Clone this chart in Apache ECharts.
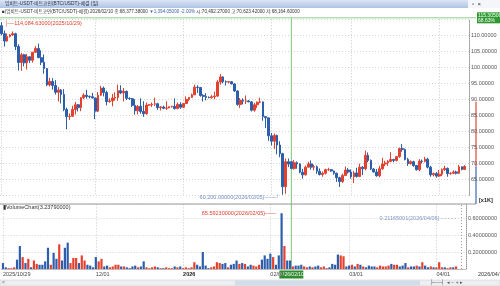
<!DOCTYPE html>
<html><head><meta charset="utf-8">
<script src="https://cdn.jsdelivr.net/npm/echarts@6/dist/echarts.min.js"></script>
<style>html,body{margin:0;padding:0;background:#fff;overflow:hidden}#c{width:500px;height:286px}</style>
</head><body><div id="c"></div>
<script>
// ---- data (daily candles, BTC/USDT) ----
const startDate = [2025, 10, 29];
// [open, high, low, close]
const ohlc = [
[113000,114084.63,110000,110500],[110500,111500,106500,108200],[108200,110600,108000,109600],
[109600,110400,109300,110100],[110100,111200,109800,110500],[110500,110800,105400,106500],
[106500,107200,99000,101500],[101500,104500,98900,103900],[103900,104200,100300,101400],
[101400,104200,99300,103300],[103300,103400,101300,102200],[102200,104800,101500,104700],
[104700,106600,104500,105900],[105900,107400,102900,103000],[103000,105300,100700,101600],
[101600,104000,98000,99600],[99600,99800,94100,94500],[94500,96700,94000,95600],
[95600,96600,93000,94300],[94300,96000,91500,92200],[92200,93800,89300,92900],
[92900,93200,88700,91500],[91500,93200,86300,86800],[86800,87400,80600,84600],
[84600,85600,83500,84700],[84700,88000,84600,86800],[86800,89200,85300,88300],
[88300,88500,86200,87400],[87400,90700,86300,90500],[90500,91900,90000,91300],
[91300,93000,90200,90900],[90900,91200,90300,90800],[90800,92000,90300,90400],
[90400,90500,83800,86300],[86300,92300,86000,91300],[91300,94200,91000,93500],
[93500,94000,90900,92100],[92100,92700,88100,89300],[89300,90300,88900,89500],
[89500,91700,87800,90400],[90400,92200,89600,90600],[90600,94600,89500,92700],
[92700,94400,91600,92000],[92000,93500,89300,92500],[92500,92700,89800,90300],
[90300,90600,89800,90200],[90200,90400,87600,88100],[88100,90000,85200,86400],
[86400,88200,85300,87800],[87800,90300,85500,86200],[86200,89400,84500,85500],
[85500,89000,85200,88200],[88200,88500,87900,88300],[88300,89000,87600,88500],
[88500,90500,87900,88600],[88600,88900,86700,87400],[87400,87900,86500,87600],
[87600,88000,86900,87200],[87200,89400,86700,87300],[87300,87800,87200,87700],
[87700,88000,87400,87800],[87800,90300,86800,87100],[87100,89000,86900,88400],
[88400,89100,87000,87500],[87500,88700,87300,88700],[88700,90900,88500,90000],
[90000,90600,89400,90600],[90600,91800,90500,91400],[91400,94600,91300,93800],
[93800,94400,92000,93700],[93700,93800,90800,91200],[91200,91600,89300,90900],
[90900,91900,89700,90600],[90600,90900,90300,90500],[90500,91300,90200,90800],
[90800,92400,90000,91000],[91000,96000,90800,95400],[95400,97900,94600,97000],
[97000,97200,95000,95500],[95500,95900,94300,95400],[95400,95700,95000,95500],
[95500,95600,94700,94800],[94800,95000,92300,92600],[92600,92800,88000,88400],
[88400,90400,87300,89700],[89700,90300,88400,89400],[89400,91200,88500,89500],
[89500,89800,89100,89200],[89200,89300,86200,86600],[86600,88900,86100,88300],
[88300,89300,87300,89100],[89100,90500,88800,89200],[89200,89300,83300,84600],
[84600,84700,81000,84200],[84200,84300,77000,78600],[78600,79500,75600,76900],
[76900,79300,74500,78700],[78700,79000,72800,75700],[75700,76900,71900,73000],
[73000,73300,60200,62700],[62700,71500,60500,70500],[70500,71500,68800,69771.43],
[70492.27,70623.42,68164.60,68377.38],[68377,71000,68000,70200],[70200,70600,68300,69800],
[69800,70000,66900,67200],[67200,68300,65200,66400],[66400,69300,66200,68800],
[68800,70500,68700,69800],[69800,70900,68000,68800],[68800,69600,67800,68900],
[68900,69300,66700,67500],[67500,68400,66200,66500],[66500,67400,65800,66900],
[66900,68300,66500,68000],[68000,68600,67600,68000],[68000,68200,67300,67600],
[67600,67700,66400,66900],[66900,67100,64200,65500],[65500,65800,62600,64300],
[64300,66800,63900,66200],[66200,69000,66000,67900],[67900,68500,66800,67300],
[67300,68100,65200,65800],[65800,67600,63800,67000],[67000,68600,65500,65900],
[65900,69900,65700,68800],[68800,69100,66300,68300],[68300,74000,67800,72500],
[72500,73400,70300,70900],[70900,71200,67900,68200],[68200,68500,67100,67300],
[67300,68200,65800,66100],[66100,69200,65600,68300],[68300,71700,68000,69800],
[69800,70800,69100,70100],[70100,71000,69200,70600],[70600,73500,70300,71200],
[71200,71400,70300,70900],[70900,72300,70600,72100],[72100,74900,71700,74600],
[74600,76000,73600,74300],[74300,74600,70900,71200],[71200,71700,69200,69900],
[69900,70900,69600,70500],[70500,70800,68900,69300],[69300,69500,67700,68000],
[68000,71300,67500,70700],[70700,71200,69900,70600],[70600,72000,70300,71300],
[71300,71700,68400,68800],[68800,69200,65800,66400],[66400,67100,65900,66800],
[66800,67300,65500,66000],[66000,67900,65700,66600],[66600,68400,66000,68000],
[68000,69200,67600,68400],[68400,68700,65800,66800],[66800,67200,66400,66900],
[66900,67800,66600,67300],[67300,67700,66500,66900],[66900,69500,66700,68900],
[68900,69000,67800,68100],[68100,69400,68000,69000]
];
const volumes = [
0.07,0.02,0.01,0.01,0.02,0.11,0.27,0.14,0.07,0.12,0.02,0.10,0.06,0.05,0.05,0.09,0.25,0.05,0.19,0.12,
0.29,0.10,0.25,0.31,0.07,0.13,0.13,0.07,0.16,0.10,0.05,0.04,0.02,0.14,0.09,0.12,0.03,0.04,0.02,0.03,
0.05,0.05,0.03,0.03,0.02,0.01,0.03,0.04,0.02,0.03,0.09,0.02,0.01,0.02,0.03,0.02,0.01,0.01,0.02,0.01,
0.01,0.03,0.02,0.03,0.01,0.02,0.01,0.02,0.08,0.05,0.03,0.20,0.04,0.01,0.02,0.03,0.08,0.07,0.06,0.07,
0.02,0.05,0.06,0.10,0.06,0.07,0.06,0.03,0.05,0.04,0.03,0.05,0.11,0.16,0.12,0.18,0.14,0.05,0.16,0.656,
0.27,0.10,0.10,0.03,0.04,0.04,0.05,0.03,0.02,0.03,0.02,0.03,0.04,0.02,0.03,0.01,0.02,0.06,0.05,0.17,
0.16,0.15,0.03,0.04,0.05,0.03,0.06,0.05,0.03,0.02,0.04,0.03,0.03,0.02,0.04,0.03,0.03,0.04,0.06,0.05,
0.05,0.03,0.04,0.07,0.02,0.03,0.03,0.04,0.03,0.08,0.04,0.02,0.03,0.02,0.02,0.08,0.02,0.02,0.01,0.02,
0.02,0.03
];
const dateTickLabels = {'2025/10/29':'2025/10/29','2025/12/01':'12/01','2026/01/01':'2026','2026/02/01':'02/01','2026/03/01':'03/01','2026/04/01':'04/01'};
const headerTitle = '업비트-USDT-비트코인(BTC/USDT)-체결 (일)';
const crossIndex = 102;
const crossPrice = 115305.056;
const crossDateText = '2026/02/10';
const infoPrefix = '■(업비트-USDT-비트코인(BTC/USDT)-체결) 2026/02/10 종:68,377.38000 ';
const infoChange = '▼1,394.05000 -2.00%';
const infoSuffix = ' 시:70,492.27000 고:70,623.42000 저:68,164.60000';
const maxLabel = '114,084.63000(2025/10/29)';
const minLabel = '60,200.00000(2026/02/05)';
const volMaxLabel = '65.59230000(2026/02/05)';
const volNoteLabel = '0.21165001(2026/04/06)';
const volTitle = 'VolumeChart(3.23790000)';

// ---- build ----
const UP = '#e4402d', DOWN = '#2d5eab', CROSS = '#7cc47c';
const FF = "'Liberation Sans','Noto Sans CJK KR',sans-serif";
const dates = [];
for (let i = 0; i < ohlc.length; i++) {
  const d = new Date(Date.UTC(startDate[0], startDate[1]-1, startDate[2] + i));
  dates.push(d.getUTCFullYear() + '/' + String(d.getUTCMonth()+1).padStart(2,'0') + '/' + String(d.getUTCDate()).padStart(2,'0'));
}
const cats = dates.concat(['']);
const candleData = ohlc.map(r => [r[0], r[3], r[2], r[1]]);
const volData = volumes.map((v, i) => ({value: v, itemStyle: {color: ohlc[i][3] >= ohlc[i][0] ? UP : DOWN}}));
const last = ohlc[ohlc.length-1], prev = ohlc[ohlc.length-2];
const lastChg = (last[3]/prev[3]-1)*100;
let hiIdx = 0, loIdx = 0, vIdx = 0;
ohlc.forEach((r,i)=>{ if (r[1]>ohlc[hiIdx][1]) hiIdx=i; if (r[2]<ohlc[loIdx][2]) loIdx=i; if (volumes[i]>volumes[vIdx]) vIdx=i; });
const isTick = (i, v) => dateTickLabels[v] !== undefined;

const chart = echarts.init(document.getElementById('c'));
const gridR = 24;
const option = {
  animation: false,
  textStyle: {fontFamily: FF},
  grid: [
    {left: 0, right: gridR, top: 19.3, height: 176},
    {left: 0, right: gridR, top: 204.4, height: 64.6}
  ],
  xAxis: [
    {type: 'category', data: cats, gridIndex: 0, boundaryGap: true,
     axisLine: {show: false}, axisTick: {show: false}, axisLabel: {show: false},
     splitLine: {show: true, interval: isTick, alignWithLabel: true, lineStyle: {color: '#c8c8c8', type: [1,2], width: 1}}},
    {type: 'category', data: cats, gridIndex: 1, boundaryGap: true,
     axisLine: {show: true, lineStyle: {color: '#bbb'}}, axisTick: {show: false},
     axisLabel: {show: true, interval: isTick, align: 'left', margin: 3, fontSize: 5.5, color: '#444', fontFamily: FF,
       formatter: v => v === '2026/01/01' ? '{b|2026}' : (dateTickLabels[v] || ''),
       rich: {b: {fontWeight: 'bold', fontSize: 5.5, color: '#222', fontFamily: FF}}},
     splitLine: {show: true, interval: isTick, alignWithLabel: true, lineStyle: {color: '#c8c8c8', type: [1,2], width: 1}}}
  ],
  yAxis: [
    {type: 'value', gridIndex: 0, position: 'right', min: 60000, max: 115000, interval: 5000,
     axisLine: {show: true, lineStyle: {color: '#999', type: [1,1]}}, axisTick: {show: false},
     axisLabel: {fontSize: 5.5, color: '#555', margin: 2, showMinLabel: false, showMaxLabel: false, fontFamily: FF,
       formatter: v => (v/1000).toFixed(5)},
     splitLine: {show: true, lineStyle: {color: '#d4d4d4', type: [1,2]}}},
    {type: 'value', gridIndex: 1, position: 'right', min: 0, max: 0.76, interval: 0.2,
     axisLine: {show: true, lineStyle: {color: '#999', type: [1,1]}}, axisTick: {show: false},
     axisLabel: {fontSize: 5.5, color: '#555', margin: 2, showMinLabel: false, showMaxLabel: false, fontFamily: FF,
       formatter: v => v.toFixed(8)},
     splitLine: {show: true, lineStyle: {color: '#d4d4d4', type: [1,2]}}}
  ],
  series: [
    {type: 'candlestick', xAxisIndex: 0, yAxisIndex: 0, data: candleData, barWidth: '78%',
     itemStyle: {color: UP, color0: DOWN, borderColor: UP, borderColor0: DOWN, borderWidth: 1},
     markPoint: {symbol: 'rect', symbolSize: [1,1], itemStyle: {color: 'rgba(0,0,0,0)'}, silent: true,
       data: [
         {coord: [hiIdx, ohlc[hiIdx][1]], label: {show: true, position: 'right', offset: [-2, 1], color: UP, fontSize: 5.5, fontFamily: FF, formatter: '├—' + maxLabel}},
         {coord: [loIdx, ohlc[loIdx][2]], label: {show: true, position: 'left', offset: [2, 3], color: '#6f8fc0', fontSize: 5.5, fontFamily: FF, formatter: minLabel + '——┘'}}
       ]},
     markLine: {symbol: 'none', silent: true, animation: false,
       lineStyle: {opacity: 0},
       data: [
         {yAxis: last[3], label: {show: true, position: 'end', distance: 1,
           formatter: (last[3]/1000).toFixed(5) + '\n' + (lastChg>=0?'+':'') + lastChg.toFixed(2) + '%',
           backgroundColor: '#d9372a', color: '#fff', fontSize: 5, lineHeight: 5.5, padding: [0.5, 2, 0.5, 1], fontFamily: FF}}
       ]}},
    {type: 'bar', xAxisIndex: 1, yAxisIndex: 1, data: volData, barWidth: '78%',
     markPoint: {symbol: 'rect', symbolSize: [1,1], itemStyle: {color: 'rgba(0,0,0,0)'}, silent: true,
       data: [
         {coord: [vIdx, volumes[vIdx]], label: {show: true, position: 'left', offset: [0, 0], color: UP, fontSize: 5.5, fontFamily: FF, formatter: volMaxLabel + '——'}},
         {coord: [ohlc.length-1, 0.6], label: {show: true, position: 'left', offset: [0, 0], color: '#7d97c4', fontSize: 5.5, fontFamily: FF, formatter: volNoteLabel + ' - - - - -'}}
       ]},
     markLine: {symbol: 'none', silent: true, animation: false,
       lineStyle: {color: '#999', type: [1,2], width: 1},
       data: [
         {xAxis: ohlc.length-1, label: {show: false}},
         {yAxis: volumes[volumes.length-1], lineStyle: {opacity: 0}, label: {show: true, position: 'end', distance: 1,
           formatter: volumes[volumes.length-1].toFixed(8), backgroundColor: '#111', color: '#fff', fontSize: 5, padding: [1, 2, 1, 1], fontFamily: FF}}
       ]}}
  ]
};
chart.setOption(option);

// decorations positioned through the chart's own scales
const xCross = chart.convertToPixel({xAxisIndex: 0}, cats[crossIndex]);
const yCross = chart.convertToPixel({yAxisIndex: 0}, crossPrice);
const yLast = chart.convertToPixel({yAxisIndex: 0}, last[3]);
const yRangeTop = chart.convertToPixel({yAxisIndex: 0}, 89200);
const xRight = 500 - gridR;
const crossPct = (crossPrice / 68377.38 - 1) * 100;
chart.setOption({graphic: [
  {type: 'rect', shape: {x: 0, y: 0, width: 500, height: 8}, style: {fill: new echarts.graphic.LinearGradient(0,0,0,1,[{offset:0,color:'#dbe6f5'},{offset:1,color:'#aec3e3'}])}},
  {type: 'text', x: 5, y: 4, style: {text: headerTitle, fontSize: 4.8, fill: '#1f2b44', fontFamily: FF, verticalAlign: 'middle'}},
  {type: 'rect', shape: {x: 468, y: 0, width: 32, height: 8}, style: {fill: '#f4f6f9'}},
  {type: 'text', x: 472, y: 4, style: {text: '▫  ×', fontSize: 6, fill: '#333', fontFamily: FF, verticalAlign: 'middle'}},
  {type: 'text', x: 2, y: 11.5, style: {rich: {a: {fontSize: 4.6, fill: '#333', fontFamily: FF}, b: {fontSize: 4.6, fill: '#3d62a8', fontFamily: FF}},
    text: '{a|' + infoPrefix + '}{b|' + infoChange + '}{a|' + infoSuffix + '}', verticalAlign: 'middle'}},
  {type: 'line', shape: {x1: 0, y1: yCross - 0.5, x2: xRight, y2: yCross - 0.5}, style: {stroke: '#8fcf8f', lineWidth: 1}},
  {type: 'line', shape: {x1: xCross, y1: yCross - 0.5, x2: xCross, y2: 270}, style: {stroke: CROSS, lineWidth: 1}},
  {type: 'rect', shape: {x: xRight + 1, y: yCross - 6, width: 23, height: 11}, style: {fill: '#2f9a2f'}},
  {type: 'text', x: xRight + 2, y: yCross - 0.5, style: {text: (crossPrice/1000).toFixed(5) + '\n' + crossPct.toFixed(2) + '%', fontSize: 5, lineHeight: 5.2, fill: '#fff', fontFamily: FF, verticalAlign: 'middle'}},
  {type: 'line', shape: {x1: xRight, y1: yRangeTop, x2: xRight, y2: yLast}, style: {stroke: '#e0463a', lineWidth: 1.2}},
  {type: 'line', shape: {x1: xRight, y1: yLast, x2: xRight, y2: 204}, style: {stroke: '#3f69b0', lineWidth: 1.2}},
  {type: 'line', shape: {x1: 0, y1: 204, x2: xRight, y2: 204}, style: {stroke: '#9a9a9a', lineWidth: 1}},
  {type: 'text', x: xRight + 3, y: 200, style: {text: '[x1K]', fontSize: 5.5, fontWeight: 'bold', fill: '#222', fontFamily: FF, verticalAlign: 'middle'}},
  {type: 'text', x: 3, y: 207.5, style: {text: '▮' + volTitle, fontSize: 5.5, fill: '#333', fontFamily: FF, verticalAlign: 'middle'}},
  {type: 'rect', shape: {x: xCross - 12, y: 270.5, width: 24, height: 8}, style: {fill: '#2e8b2e'}},
  {type: 'text', x: xCross, y: 274.5, style: {text: crossDateText, fontSize: 5, fill: '#fff', fontFamily: FF, align: 'center', verticalAlign: 'middle'}},
  {type: 'text', x: xRight + 2, y: 274.5, style: {text: dates[dates.length-1], fontSize: 5.5, fill: '#333', fontFamily: FF, verticalAlign: 'middle'}},
  {type: 'rect', shape: {x: 0, y: 280, width: 500, height: 6}, style: {fill: '#eceef1', stroke: '#c9c9c9', lineWidth: 0.5}},
  {type: 'rect', shape: {x: 235, y: 280.5, width: 185, height: 5}, style: {fill: '#d3ddea'}},
  {type: 'text', x: 2, y: 283, style: {text: '<', fontSize: 5, fill: '#555', fontFamily: FF, verticalAlign: 'middle'}},
  {type: 'text', x: 430, y: 283, style: {text: '├──┤  ◂ − + ▸', fontSize: 5, fill: '#555', fontFamily: FF, verticalAlign: 'middle'}}
]});
</script></body></html>
